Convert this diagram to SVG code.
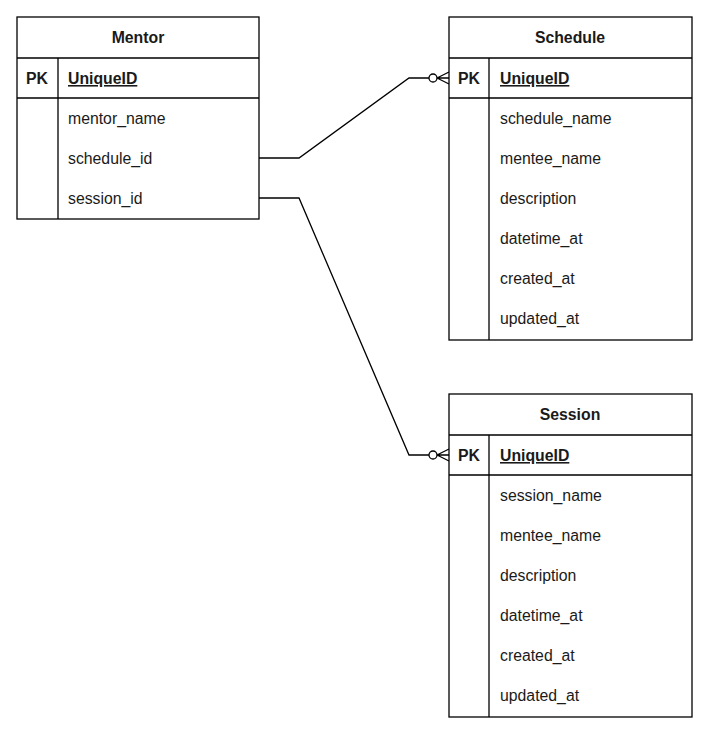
<svg xmlns="http://www.w3.org/2000/svg" width="706" height="736" viewBox="0 0 706 736">
<style>
.box{fill:#fff;stroke:#000;stroke-width:1.3}
.ln{stroke:#000;stroke-width:1.3;fill:none}
.t{font-family:"Liberation Sans",Arial,sans-serif;font-size:15.8px;fill:#1a1a1a}
.b{font-weight:bold}
.u{text-decoration:underline}
.c{text-anchor:middle}
</style>
<rect width="706" height="736" fill="#fff"/>
<g id="connectors">
<path class="ln" d="M259 158 H299 L409 78 H429"/>
<circle class="ln" cx="433" cy="78" r="4"/>
<path class="ln" d="M437 78 H449 M437 78 L449 72 M437 78 L449 84"/>
<path class="ln" d="M259 198 H299 L409 455 H429"/>
<circle class="ln" cx="433" cy="455" r="4"/>
<path class="ln" d="M437 455 H449 M437 455 L449 449 M437 455 L449 461"/>
</g>
<g id="mentor">
<rect class="box" x="17" y="17" width="242" height="202"/>
<path class="ln" d="M17 58 H259 M17 98 H259 M58 58 V219"/>
<text class="t b c" x="138" y="43">Mentor</text>
<text class="t b c" x="37" y="84">PK</text>
<text class="t b u" x="68" y="84">UniqueID</text>
<text class="t" x="68" y="124">mentor_name</text>
<text class="t" x="68" y="164">schedule_id</text>
<text class="t" x="68" y="204">session_id</text>
</g>
<g id="schedule">
<rect class="box" x="449" y="17" width="243" height="323"/>
<path class="ln" d="M449 58 H692 M449 98 H692 M489 58 V340"/>
<text class="t b c" x="570" y="43">Schedule</text>
<text class="t b c" x="469" y="84">PK</text>
<text class="t b u" x="500" y="84">UniqueID</text>
<text class="t" x="500" y="124">schedule_name</text>
<text class="t" x="500" y="164">mentee_name</text>
<text class="t" x="500" y="204">description</text>
<text class="t" x="500" y="244">datetime_at</text>
<text class="t" x="500" y="284">created_at</text>
<text class="t" x="500" y="324">updated_at</text>
</g>
<g id="session">
<rect class="box" x="449" y="394" width="243" height="323"/>
<path class="ln" d="M449 435 H692 M449 475 H692 M489 435 V717"/>
<text class="t b c" x="570" y="420">Session</text>
<text class="t b c" x="469" y="461">PK</text>
<text class="t b u" x="500" y="461">UniqueID</text>
<text class="t" x="500" y="501">session_name</text>
<text class="t" x="500" y="541">mentee_name</text>
<text class="t" x="500" y="581">description</text>
<text class="t" x="500" y="621">datetime_at</text>
<text class="t" x="500" y="661">created_at</text>
<text class="t" x="500" y="701">updated_at</text>
</g>
</svg>
